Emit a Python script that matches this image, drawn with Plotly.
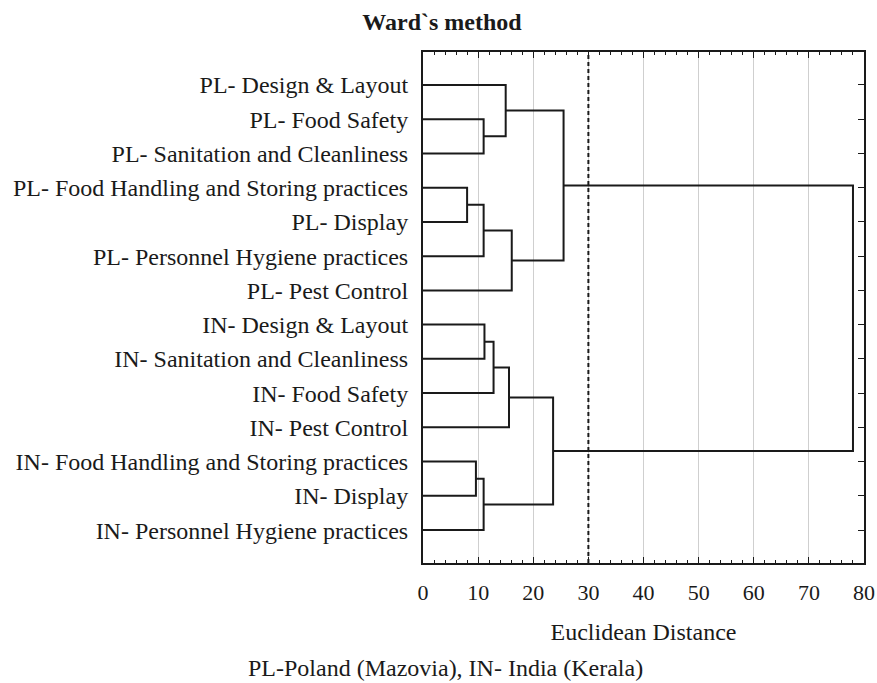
import plotly.graph_objects as go

# leaves in the order they appear, top to bottom
leaves = [
    "PL- Design & Layout",
    "PL- Food Safety",
    "PL- Sanitation and Cleanliness",
    "PL- Food Handling and Storing practices",
    "PL- Display",
    "PL- Personnel Hygiene practices",
    "PL- Pest Control",
    "IN- Design & Layout",
    "IN- Sanitation and Cleanliness",
    "IN- Food Safety",
    "IN- Pest Control",
    "IN- Food Handling and Storing practices",
    "IN- Display",
    "IN- Personnel Hygiene practices",
]

# Ward linkage: (child a, child b, linkage distance); new cluster ids start at 14
merge_a = [3, 11, 1, 14, 15, 7, 19, 0, 20, 17, 22, 21, 25]
merge_b = [4, 12, 2, 5, 13, 8, 9, 16, 10, 6, 18, 23, 24]
merge_dist = [8.0, 9.6, 11.0, 11.0, 11.0, 11.15, 12.8, 15.0, 15.6, 16.1, 23.6, 25.5, 78.0]

cutoff = 30
x_ticks = [0, 10, 20, 30, 40, 50, 60, 70, 80]

# position of every node: leaves at 1..n, clusters at middle of children
ypos = {i: i + 1 for i in range(len(leaves))}
xpos = {i: 0 for i in range(len(leaves))}
seg_x, seg_y = [], []
for k, (a, b, d) in enumerate(zip(merge_a, merge_b, merge_dist)):
    node = len(leaves) + k
    seg_x += [xpos[a], d, d, xpos[b], None]
    seg_y += [ypos[a], ypos[a], ypos[b], ypos[b], None]
    ypos[node] = (ypos[a] + ypos[b]) / 2
    xpos[node] = d

serif = "Liberation Serif, Times New Roman, serif"

fig = go.Figure()
fig.add_trace(go.Scatter(x=seg_x, y=seg_y, mode="lines",
                         line=dict(color="#1a1a1a", width=2),
                         hoverinfo="skip", showlegend=False))

fig.add_vline(x=cutoff, line=dict(color="#1a1a1a", width=2, dash="4px,3px"))

fig.update_layout(
    width=877, height=683,
    margin=dict(l=423, r=13, t=52, b=120, autoexpand=False),
    paper_bgcolor="white", plot_bgcolor="white",
    font=dict(family=serif, size=24, color="#1a1a1a"),
    title=dict(text="<b>Ward`s method</b>", x=442 / 877, xanchor="center",
               y=1 - 22 / 683, yanchor="middle", font=dict(size=24)),
    showlegend=False,
)

fig.update_xaxes(
    range=[0, 80], tickvals=x_ticks, ticks="inside", ticklen=6,
    tickwidth=1, tickcolor="#1a1a1a", tickfont=dict(size=22),
    ticklabelstandoff=9, automargin=False,
    minor=dict(dtick=2, ticks="inside", ticklen=3, tickcolor="#1a1a1a", showgrid=False),
    showline=True, linewidth=2, linecolor="#1a1a1a", mirror="ticks",
    showgrid=True, gridcolor="#cfcfcf", gridwidth=1, zeroline=False,
    title=dict(text="Euclidean Distance", standoff=19, font=dict(size=24)),
)

fig.update_yaxes(
    range=[14.96, 0.04], tickvals=list(range(1, len(leaves) + 1)), ticktext=leaves,
    ticks="inside", ticklen=6, tickcolor="#1a1a1a", ticklabelstandoff=8,
    automargin=False,
    showline=True, linewidth=2, linecolor="#1a1a1a", mirror="ticks",
    showgrid=False, zeroline=False, tickfont=dict(size=24),
)

fig.add_annotation(text="PL-Poland (Mazovia), IN- India (Kerala)",
                   xref="paper", yref="paper", x=(445 - 423) / 441, y=(563 - 668) / 511,
                   xanchor="center", yanchor="middle", showarrow=False,
                   font=dict(size=24))

# drop the browser's default page margin so the figure sits at the top-left corner
fig.write_html("out.html", config={"displayModeBar": False},
               post_script="document.body.style.margin='0';")
